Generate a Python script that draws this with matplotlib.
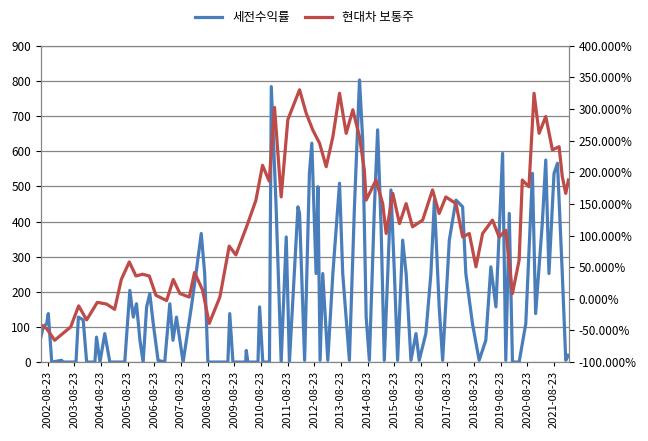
import matplotlib
matplotlib.use("Agg")
import matplotlib.pyplot as plt
from matplotlib import font_manager
from matplotlib.ticker import FuncFormatter, MultipleLocator

_names = {f.name for f in font_manager.fontManager.ttflist}
_cjk = [n for n in ["Noto Sans CJK KR", "Noto Sans CJK JP", "Noto Sans CJK SC",
                    "Noto Sans CJK TC", "Noto Sans KR"] if n in _names]
plt.rcParams["font.family"] = "sans-serif"
plt.rcParams["font.sans-serif"] = _cjk + ["DejaVu Sans"]

# decimal-year time stamps and values (left-axis units)
red_t = [2002.40, 2002.6, 2002.9, 2003.5, 2003.8, 2004.1, 2004.5, 2004.85, 2005.15, 2005.4,
         2005.7, 2005.95, 2006.2, 2006.45, 2006.7, 2007.1, 2007.35, 2007.6, 2007.95, 2008.15,
         2008.45, 2008.7, 2009.1, 2009.45, 2009.7, 2010.1, 2010.45, 2010.7, 2010.95, 2011.15,
         2011.4, 2011.65, 2012.09, 2012.34, 2012.59, 2012.84, 2013.09, 2013.34, 2013.59, 2013.84,
         2014.09, 2014.34, 2014.52, 2014.59, 2014.96, 2015.21, 2015.34, 2015.59, 2015.84, 2016.09,
         2016.33, 2016.71, 2017.08, 2017.33, 2017.58, 2017.96, 2018.21, 2018.46, 2018.71, 2018.96,
         2019.33, 2019.58, 2019.83, 2020.08, 2020.33, 2020.45, 2020.7, 2020.89, 2021.08, 2021.33,
         2021.58, 2021.83, 2021.95, 2022.08, 2022.18]
red_v = [105, 95, 62, 100, 160, 120, 170, 165, 150, 235,
         285, 245, 250, 245, 190, 175, 235, 195, 185, 255,
         205, 110, 185, 330, 305, 385, 460, 560, 515, 725,
         470, 690, 775, 708, 660, 623, 556, 641, 765, 651,
         718, 641, 547, 461, 518, 451, 366, 480, 394, 451,
         385, 404, 490, 423, 470, 451, 356, 366, 271, 366,
         404, 356, 375, 195, 290, 518, 499, 765, 651, 699,
         604, 613, 528, 480, 518]

blue_t = [2002.35, 2002.47, 2002.6, 2002.66, 2002.79, 2003.16, 2003.22, 2003.7, 2003.79, 2003.97,
          2004.1, 2004.41, 2004.47, 2004.6, 2004.78, 2004.97, 2005.53, 2005.72, 2005.85, 2005.97,
          2006.1, 2006.22, 2006.35, 2006.47, 2006.6, 2006.78, 2007.03, 2007.22, 2007.34, 2007.47,
          2007.72, 2008.03, 2008.22, 2008.4, 2008.53, 2008.65, 2009.4, 2009.47, 2009.59, 2010.07,
          2010.09, 2010.15, 2010.53, 2010.59, 2010.71, 2010.96, 2011.03, 2011.21, 2011.4, 2011.59,
          2011.71, 2012.03, 2012.09, 2012.28, 2012.46, 2012.55, 2012.71, 2012.78, 2012.86, 2012.96,
          2013.15, 2013.34, 2013.59, 2013.71, 2013.96, 2014.15, 2014.34, 2014.46, 2014.59, 2014.71,
          2014.9, 2015.02, 2015.15, 2015.27, 2015.4, 2015.52, 2015.65, 2015.77, 2015.96, 2016.09,
          2016.27, 2016.46, 2016.58, 2016.83, 2017.02, 2017.15, 2017.33, 2017.46, 2017.71, 2017.96,
          2018.21, 2018.33, 2018.58, 2018.83, 2019.08, 2019.27, 2019.46, 2019.71, 2019.83, 2019.96,
          2020.08, 2020.33, 2020.58, 2020.83, 2020.95, 2021.2, 2021.33, 2021.45, 2021.64, 2021.77,
          2021.95, 2022.08, 2022.18]
blue_v = [60, 100, 109, 138, 0, 5, 0, 0, 128, 120,
          0, 0, 71, 0, 81, 0, 0, 204, 128, 166,
          62, 0, 157, 195, 109, 5, 0, 166, 62, 128,
          0, 157, 261, 366, 252, 0, 0, 138, 0, 0,
          33, 0, 0, 157, 0, 0, 784, 442, 0, 356,
          0, 442, 423, 5, 537, 623, 252, 499, 5, 252,
          5, 252, 509, 252, 5, 442, 803, 632, 128, 5,
          442, 661, 385, 5, 252, 490, 252, 5, 347, 252,
          5, 81, 5, 81, 252, 461, 157, 5, 347, 461,
          442, 252, 109, 5, 62, 271, 157, 594, 5, 423,
          0, 0, 109, 537, 138, 395, 575, 252, 537, 566,
          252, 5, 19]

tick_years = list(range(2002, 2022))
tick_labels = [f"{y}-08-23" for y in tick_years]

fig = plt.figure(figsize=(6.48, 4.41), dpi=100)
ax = fig.add_axes([0.063, 0.179, 0.815, 0.717])
ax.set_axisbelow(True)
ax.grid(axis="y", color="#868686", linewidth=0.9)
lb, = ax.plot(blue_t, blue_v, color="#4a7ebb", linewidth=2.3, label="세전수익률")
lr, = ax.plot(red_t, red_v, color="#be4b48", linewidth=2.3, label="현대차 보통주")
ax.set_xlim(2002.38, 2022.2)
ax.set_ylim(0, 900)
ax.yaxis.set_major_locator(MultipleLocator(100))
ax.set_xticks([y + 0.64 for y in tick_years])
ax.set_xticklabels(tick_labels, rotation=90, fontsize=8)
ax.tick_params(axis="y", labelsize=8.5)
ax.tick_params(axis="x", length=3)
for s in ax.spines.values():
    s.set_color("#868686")

ax2 = ax.twinx()
ax2.set_ylim(-1.0, 4.0)
ax2.yaxis.set_major_locator(MultipleLocator(0.5))
ax2.yaxis.set_major_formatter(FuncFormatter(lambda v, p: f"{v*100:.3f}%"))
ax2.tick_params(axis="y", labelsize=8.5)
for s in ax2.spines.values():
    s.set_color("#868686")

fig.legend(handles=[lb, lr], loc="upper center", bbox_to_anchor=(0.47, 1.0), ncol=2,
           frameon=False, fontsize=9, handlelength=2.2, columnspacing=1.2)
fig.savefig("out.png", dpi=100)
